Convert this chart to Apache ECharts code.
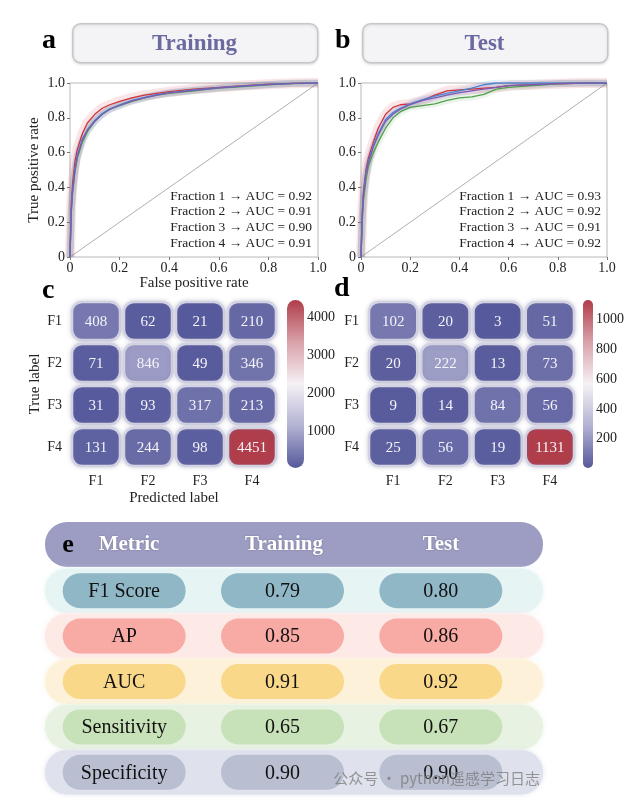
<!DOCTYPE html>
<html>
<head>
<meta charset="utf-8">
<script src="https://cdn.jsdelivr.net/npm/echarts@6/dist/echarts.min.js"></script>
<style>
html, body { margin: 0; padding: 0; background: #fff; }
#main { width: 627px; height: 804px; }
</style>
</head>
<body>
<div id="main"></div>
<script>
// ---- data ----
var fractionNames = ['Fraction 1', 'Fraction 2', 'Fraction 3', 'Fraction 4'];
var aucTrain = [0.92, 0.91, 0.90, 0.91];
var aucTest = [0.93, 0.92, 0.91, 0.92];

// ROC curves (training)
var fprTrain = [0, 0.005, 0.01, 0.02, 0.03, 0.05, 0.07, 0.1, 0.13, 0.16, 0.2, 0.25, 0.3, 0.35, 0.4, 0.5, 0.6, 0.7, 0.8, 0.9, 1.0];
var tprTrain1 = [0, 0.30, 0.42, 0.55, 0.62, 0.71, 0.77, 0.82, 0.855, 0.875, 0.895, 0.915, 0.93, 0.94, 0.95, 0.965, 0.975, 0.985, 0.993, 0.998, 1.0];
var tprTrain2 = [0, 0.25, 0.36, 0.49, 0.57, 0.66, 0.72, 0.78, 0.82, 0.85, 0.87, 0.895, 0.915, 0.93, 0.94, 0.955, 0.97, 0.98, 0.99, 0.997, 1.0];
var tprTrain3 = [0, 0.27, 0.38, 0.51, 0.59, 0.68, 0.73, 0.785, 0.825, 0.85, 0.875, 0.90, 0.918, 0.933, 0.945, 0.96, 0.973, 0.983, 0.992, 0.998, 1.0];
var tprTrain4 = [0, 0.26, 0.37, 0.50, 0.58, 0.67, 0.73, 0.78, 0.82, 0.848, 0.872, 0.897, 0.915, 0.93, 0.943, 0.958, 0.972, 0.982, 0.991, 0.998, 1.0];

// ROC curves (test)
var fprTest = [0, 0.005, 0.01, 0.02, 0.03, 0.05, 0.07, 0.1, 0.13, 0.16, 0.2, 0.25, 0.3, 0.35, 0.4, 0.45, 0.5, 0.55, 0.6, 0.7, 0.8, 0.9, 1.0];
var tprTest1 = [0, 0.25, 0.38, 0.50, 0.57, 0.66, 0.74, 0.82, 0.86, 0.875, 0.88, 0.90, 0.93, 0.955, 0.96, 0.965, 0.97, 0.975, 0.985, 0.99, 0.995, 1.0, 1.0];
var tprTest2 = [0, 0.20, 0.32, 0.44, 0.52, 0.60, 0.66, 0.74, 0.80, 0.835, 0.86, 0.87, 0.88, 0.90, 0.915, 0.92, 0.935, 0.965, 0.975, 0.985, 0.995, 1.0, 1.0];
var tprTest3 = [0, 0.24, 0.36, 0.48, 0.55, 0.64, 0.71, 0.79, 0.83, 0.855, 0.88, 0.905, 0.925, 0.94, 0.955, 0.97, 0.99, 1.0, 1.0, 1.0, 1.0, 1.0, 1.0];
var tprTest4 = [0, 0.23, 0.35, 0.47, 0.54, 0.63, 0.70, 0.78, 0.82, 0.85, 0.875, 0.90, 0.915, 0.93, 0.945, 0.955, 0.965, 0.975, 0.985, 0.99, 0.997, 1.0, 1.0];
var diagonal = [[0, 0], [1, 1]];

// confusion matrices (rows = true label, cols = predicted label)
var classLabels = ['F1', 'F2', 'F3', 'F4'];
var cmTrain = [
  [408, 62, 21, 210],
  [71, 846, 49, 346],
  [31, 93, 317, 213],
  [131, 244, 98, 4451]
];
var cmTest = [
  [102, 20, 3, 51],
  [20, 222, 13, 73],
  [9, 14, 84, 56],
  [25, 56, 19, 1131]
];
var cbTicksTrain = [1000, 2000, 3000, 4000];
var cbTicksTest = [200, 400, 600, 800, 1000];

// metric table
var tableCols = ['Metric', 'Training', 'Test'];
var metricNames = ['F1 Score', 'AP', 'AUC', 'Sensitivity', 'Specificity'];
var metricTrain = [0.79, 0.85, 0.91, 0.65, 0.90];
var metricTest = [0.80, 0.86, 0.92, 0.67, 0.90];

// ---- styles ----
var SERIF = '"Liberation Serif", "DejaVu Serif", serif';
var lineColors = ['#d2323c', '#4fa24b', '#4a86d0', '#7a5cb4'];
var cmap = ['#56599b', '#b2b2d3', '#f5f1f5', '#d9a1a9', '#b03d4a'];
var pillColors = ['#8fb7c6', '#f8aaa5', '#f9d88a', '#c7e1b8', '#b9bfd1'];
var bandColors = ['#e7f4f4', '#fde9e6', '#fdf2d9', '#e8f2e2', '#dfe2ec'];

var myChart = echarts.init(document.getElementById('main'));

function pairs(xs, ys) {
  return xs.map(function (x, k) { return [x, ys[k]]; });
}
function minOf(m) { return Math.min.apply(null, [].concat.apply([], m)); }
function maxOf(m) { return Math.max.apply(null, [].concat.apply([], m)); }
function cells(m) {
  var out = [];
  m.forEach(function (row, r) {
    row.forEach(function (v, c) { out.push([c, r, v]); });
  });
  return out;
}

var rocFmt = function (v) { return v === 0 ? '0' : v.toFixed(1); };

function rocX(gi) {
  return {
    gridIndex: gi, type: 'value', min: 0, max: 1, interval: 0.2,
    axisLine: { show: false },
    axisTick: { show: true, length: 3, lineStyle: { color: '#777' } },
    axisLabel: { color: '#222', fontFamily: SERIF, fontSize: 14, margin: 4, formatter: rocFmt },
    splitLine: { show: false }
  };
}
function rocY(gi) {
  return {
    gridIndex: gi, type: 'value', min: 0, max: 1, interval: 0.2,
    axisLine: { show: false },
    axisTick: { show: true, length: 3, lineStyle: { color: '#777' } },
    axisLabel: { color: '#222', fontFamily: SERIF, fontSize: 14, margin: 5, formatter: rocFmt },
    splitLine: { show: false }
  };
}

var grids = [
  { left: 70, top: 83, width: 248, height: 174, show: true, borderColor: '#b8b8b8', borderWidth: 1 },   // 0 roc train
  { left: 361, top: 83, width: 246, height: 174, show: true, borderColor: '#b8b8b8', borderWidth: 1 },  // 1 roc test
  { left: 70, top: 300, width: 208, height: 168 },   // 2 cm train
  { left: 367, top: 300, width: 209, height: 168 },  // 3 cm test
  { left: 287, top: 300, width: 17, height: 168 },   // 4 colorbar train
  { left: 583, top: 300, width: 19, height: 168 },   // 5 colorbar test
  { left: 45, top: 568, width: 475, height: 227 }    // 6 table
];

var xAxes = [rocX(0), rocX(1)];
var yAxes = [rocY(0), rocY(1)];
xAxes[0].name = 'False positive rate';
xAxes[0].nameLocation = 'middle';
xAxes[0].nameGap = 17;
xAxes[0].nameTextStyle = { fontFamily: SERIF, fontSize: 15, color: '#222' };
yAxes[0].name = 'True positive rate';
yAxes[0].nameLocation = 'middle';
yAxes[0].nameGap = 28;
yAxes[0].nameTextStyle = { fontFamily: SERIF, fontSize: 15, color: '#222' };

function cmX(gi, withName) {
  var a = {
    gridIndex: gi, type: 'category', data: classLabels,
    axisLine: { show: false }, axisTick: { show: false }, splitLine: { show: false },
    axisLabel: { color: '#222', fontFamily: SERIF, fontSize: 14, margin: 6 }
  };
  if (withName) {
    a.name = 'Predicted label'; a.nameLocation = 'middle'; a.nameGap = 23;
    a.nameTextStyle = { fontFamily: SERIF, fontSize: 15, color: '#222' };
  }
  return a;
}
function cmY(gi, withName) {
  var a = {
    gridIndex: gi, type: 'category', data: classLabels, inverse: true,
    axisLine: { show: false }, axisTick: { show: false }, splitLine: { show: false },
    axisLabel: { color: '#222', fontFamily: SERIF, fontSize: 14, margin: 8 }
  };
  if (withName) {
    a.name = 'True label'; a.nameLocation = 'middle'; a.nameGap = 27;
    a.nameTextStyle = { fontFamily: SERIF, fontSize: 15, color: '#222' };
  }
  return a;
}
xAxes.push(cmX(2, true), cmX(3, false));
yAxes.push(cmY(2, true), cmY(3, false));

function cbX(gi) {
  return { gridIndex: gi, type: 'value', min: 0, max: 1, show: false };
}
function cbY(gi, lo, hi, ticks) {
  return {
    gridIndex: gi, type: 'value', min: lo, max: hi, position: 'right',
    axisLine: { show: false }, axisTick: { show: false }, splitLine: { show: false },
    axisLabel: { color: '#222', fontFamily: SERIF, fontSize: 14, margin: 3, customValues: ticks,
      formatter: function (v) { return String(v); } }
  };
}
var minTrain = minOf(cmTrain), maxTrain = maxOf(cmTrain);
var minTest = minOf(cmTest), maxTest = maxOf(cmTest);
xAxes.push(cbX(4), cbX(5));
yAxes.push(cbY(4, minTrain, maxTrain, cbTicksTrain), cbY(5, minTest, maxTest, cbTicksTest));

xAxes.push({ gridIndex: 6, type: 'category', data: tableCols, show: false });
yAxes.push({ gridIndex: 6, type: 'category', data: metricNames, inverse: true, show: false });

// ---- series ----
var series = [];
function addRoc(ai, fpr, curves) {
  series.push({
    type: 'line', xAxisIndex: ai, yAxisIndex: ai, data: diagonal, symbol: 'none', silent: true,
    lineStyle: { color: '#9a9a9a', width: 0.8 }
  });
  curves.forEach(function (tpr, i) {
    series.push({
      type: 'line', xAxisIndex: ai, yAxisIndex: ai, data: pairs(fpr, tpr), symbol: 'none', silent: true,
      lineStyle: { color: lineColors[i], width: i === 0 ? 10 : 7, opacity: 0.12 }
    });
  });
  curves.forEach(function (tpr, i) {
    series.push({
      type: 'line', xAxisIndex: ai, yAxisIndex: ai, data: pairs(fpr, tpr), symbol: 'none', silent: true,
      lineStyle: { color: lineColors[i], width: 1.3 }
    });
  });
}
addRoc(0, fprTrain, [tprTrain1, tprTrain2, tprTrain3, tprTrain4]);
addRoc(1, fprTest, [tprTest1, tprTest2, tprTest3, tprTest4]);

function cellRender(params, api) {
  var c = api.coord([api.value(0), api.value(1)]);
  var s = api.size([1, 1]);
  var w = s[0] - 4, h = s[1] - 4;
  return {
    type: 'group',
    children: [
      {
        type: 'rect',
        shape: { x: c[0] - w / 2, y: c[1] - h / 2, width: w, height: h, r: 10 },
        style: { fill: api.visual('color'), stroke: '#d2d2e2', lineWidth: 2.5, shadowBlur: 4, shadowColor: 'rgba(120,120,170,0.3)' }
      },
      {
        type: 'text', x: c[0], y: c[1] + 1,
        style: { text: String(api.value(2)), fill: '#f4f4fa', font: '15px ' + SERIF, align: 'center', textAlign: 'center', verticalAlign: 'middle', textVerticalAlign: 'middle' }
      }
    ]
  };
}
var idxCmTrain = series.length;
series.push({ type: 'custom', xAxisIndex: 2, yAxisIndex: 2, data: cells(cmTrain), renderItem: cellRender, encode: { x: 0, y: 1 } });
var idxCmTest = series.length;
series.push({ type: 'custom', xAxisIndex: 3, yAxisIndex: 3, data: cells(cmTest), renderItem: cellRender, encode: { x: 0, y: 1 } });

function barRender(params, api) {
  var cs = params.coordSys;
  var top = api.coord([0, api.value(2)]);
  var bot = api.coord([0, api.value(1)]);
  var stops = cmap.map(function (col, k) { return { offset: k / (cmap.length - 1), color: col }; });
  return {
    type: 'rect',
    shape: { x: cs.x, y: top[1], width: cs.width, height: bot[1] - top[1], r: cs.width / 2 },
    style: { fill: new echarts.graphic.LinearGradient(0, 1, 0, 0, stops) }
  };
}
series.push({ type: 'custom', xAxisIndex: 4, yAxisIndex: 4, data: [[0, minTrain, maxTrain]], renderItem: barRender, encode: { x: 0, y: [1, 2] } });
series.push({ type: 'custom', xAxisIndex: 5, yAxisIndex: 5, data: [[0, minTest, maxTest]], renderItem: barRender, encode: { x: 0, y: [1, 2] } });

function cellText(col, row) {
  if (col === 0) return metricNames[row];
  if (col === 1) return metricTrain[row].toFixed(2);
  return metricTest[row].toFixed(2);
}
function tableRender(params, api) {
  var col = api.value(0), row = api.value(1);
  var c = api.coord([col, row]);
  var s = api.size([1, 1]);
  var cs = params.coordSys;
  var kids = [];
  if (col === 0) {
    kids.push({
      type: 'rect', z2: 0,
      shape: { x: cs.x, y: c[1] - s[1] / 2 + 0.5, width: cs.width + 23, height: s[1] - 1, r: 22 },
      style: { fill: bandColors[row], shadowBlur: 4, shadowColor: bandColors[row] }
    });
  }
  var pw = 123, ph = 35;
  kids.push({
    type: 'rect', z2: 1,
    shape: { x: c[0] - pw / 2, y: c[1] - ph / 2, width: pw, height: ph, r: ph / 2 },
    style: { fill: pillColors[row] }
  });
  kids.push({
    type: 'text', z2: 2, x: c[0], y: c[1] + 1,
    style: { text: cellText(col, row), fill: '#111', font: '20px ' + SERIF, align: 'center', textAlign: 'center', verticalAlign: 'middle', textVerticalAlign: 'middle' }
  });
  return { type: 'group', children: kids };
}
var tableData = [];
metricNames.forEach(function (m, r) {
  tableCols.forEach(function (t, c) { tableData.push([c, r]); });
});
series.push({ type: 'custom', xAxisIndex: 6, yAxisIndex: 6, data: tableData, renderItem: tableRender, encode: { x: 0, y: 1 } });

// ---- graphics: panel labels, title boxes, legend texts, table header ----
var graphics = [];
function label(txt, x, y) {
  graphics.push({ type: 'text', left: x, top: y, style: { text: txt, fill: '#000', font: 'bold 28px ' + SERIF } });
}
function titleBox(txt, x, w) {
  graphics.push({
    type: 'rect', left: x, top: 23,
    shape: { width: w, height: 39, r: 8 },
    style: { fill: '#f4f4f7', stroke: '#c6c6cb', lineWidth: 1.5, shadowBlur: 3, shadowColor: 'rgba(0,0,0,0.12)', shadowOffsetY: 1 }
  });
  graphics.push({
    type: 'text', x: x + w / 2, y: 44,
    style: { text: txt, fill: '#6b6aa0', font: 'bold 23px ' + SERIF, align: 'center', textAlign: 'center', verticalAlign: 'middle', textVerticalAlign: 'middle' }
  });
}
function aucText(right, aucs) {
  aucs.forEach(function (a, i) {
    graphics.push({
      type: 'text', x: right, y: 196 + i * 15.7,
      style: { text: fractionNames[i] + ' \u2192 AUC = ' + a.toFixed(2), fill: '#222', font: '13.5px ' + SERIF, align: 'right', textAlign: 'right', verticalAlign: 'middle', textVerticalAlign: 'middle' }
    });
  });
}
label('a', 42, 27);
label('b', 335, 27);
label('c', 42, 277);
label('d', 334, 275);
titleBox('Training', 72, 245);
titleBox('Test', 362, 245);
aucText(312, aucTrain);
aucText(601, aucTest);

graphics.push({
  type: 'rect', left: 45, top: 522,
  shape: { width: 498, height: 45, r: 22 },
  style: { fill: '#9d9cc2' }
});
var headerX = [129, 284, 441];
tableCols.forEach(function (t, i) {
  graphics.push({
    type: 'text', x: headerX[i], y: 545,
    style: { text: t, fill: '#ffffff', font: 'bold 21px ' + SERIF, align: 'center', textAlign: 'center', verticalAlign: 'middle', textVerticalAlign: 'middle', textShadowBlur: 2, textShadowColor: 'rgba(0,0,0,0.25)' }
  });
});
graphics.push({
  type: 'text', x: 68, y: 545,
  style: { text: 'e', fill: '#000', font: 'bold 26px ' + SERIF, align: 'center', textAlign: 'center', verticalAlign: 'middle', textVerticalAlign: 'middle' }
});
// watermark
graphics.push({
  type: 'text', x: 540, y: 778, z: 100,
  style: { text: '公众号 · python遥感学习日志', fill: 'rgba(120,120,120,0.75)', font: '15px "Noto Sans CJK SC"', align: 'right', textAlign: 'right', verticalAlign: 'middle', textVerticalAlign: 'middle' }
});

var option = {
  backgroundColor: '#ffffff',
  animation: false,
  grid: grids,
  xAxis: xAxes,
  yAxis: yAxes,
  visualMap: [
    { type: 'continuous', show: false, seriesIndex: idxCmTrain, dimension: 2, min: minTrain, max: maxTrain, inRange: { color: cmap } },
    { type: 'continuous', show: false, seriesIndex: idxCmTest, dimension: 2, min: minTest, max: maxTest, inRange: { color: cmap } }
  ],
  graphic: graphics,
  series: series
};
myChart.setOption(option);
window.addEventListener('resize', function () {
  myChart.resize();
});
</script>
</body>
</html>
